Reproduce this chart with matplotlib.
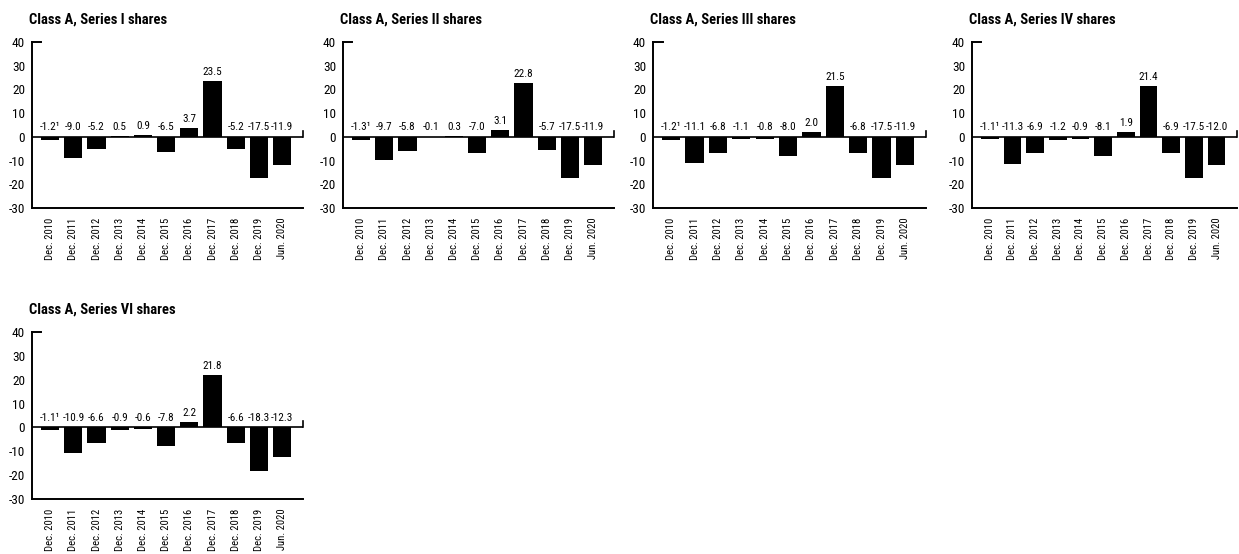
import matplotlib.pyplot as plt
import matplotlib.transforms as mtransforms

plt.rcParams['font.family'] = ['Roboto Condensed', 'Asap Condensed', 'DejaVu Sans']

periods = ["Dec. 2010", "Dec. 2011", "Dec. 2012", "Dec. 2013", "Dec. 2014", "Dec. 2015",
           "Dec. 2016", "Dec. 2017", "Dec. 2018", "Dec. 2019", "Jun. 2020"]

titles = ["Class A, Series I shares", "Class A, Series II shares",
          "Class A, Series III shares", "Class A, Series IV shares",
          "Class A, Series VI shares"]

series_1 = [-1.2, -9.0, -5.2, 0.5, 0.9, -6.5, 3.7, 23.5, -5.2, -17.5, -11.9]
series_2 = [-1.3, -9.7, -5.8, -0.1, 0.3, -7.0, 3.1, 22.8, -5.7, -17.5, -11.9]
series_3 = [-1.2, -11.1, -6.8, -1.1, -0.8, -8.0, 2.0, 21.5, -6.8, -17.5, -11.9]
series_4 = [-1.1, -11.3, -6.9, -1.2, -0.9, -8.1, 1.9, 21.4, -6.9, -17.5, -12.0]
series_6 = [-1.1, -10.9, -6.6, -0.9, -0.6, -7.8, 2.2, 21.8, -6.6, -18.3, -12.3]

all_series = [series_1, series_2, series_3, series_4, series_6]

W, H = 1239, 554
fig = plt.figure(figsize=(W / 100, H / 100), dpi=100)

# axes boxes in pixels: left, right, top, bottom
boxes = [(32, 303, 42, 208), (343, 614, 42, 208), (653, 926, 42, 208),
         (972, 1237, 42, 208), (32, 303, 332, 499)]

for vals, title, (l, r, t, b) in zip(all_series, titles, boxes):
    ax = fig.add_axes([l / W, 1 - b / H, (r - l) / W, (b - t) / H])
    x = range(len(vals))
    ax.bar(x, vals, width=0.78, color='black')
    ax.set_xlim(-0.78, 10.9)
    ax.set_ylim(-30, 40)
    ax.set_yticks([-30, -20, -10, 0, 10, 20, 30, 40])
    ax.set_yticklabels(['-30', '-20', '-10', '0', '10', '20', '30', '40'], fontsize=9.5)
    ax.set_xticks(list(x))
    ax.set_xticklabels(periods, rotation=90, fontsize=7.7)
    ax.tick_params(axis='x', length=0, pad=7)
    ax.tick_params(axis='y', length=0, pad=5)
    for s in ['top', 'right']:
        ax.spines[s].set_visible(False)
    for s in ['left', 'bottom']:
        ax.spines[s].set_linewidth(1.4)
    ax.axhline(0, color='black', lw=1.2)
    # tick at top of y axis and at the end of the zero line
    ax.plot([0, 0.035], [1, 1], transform=ax.transAxes, color='black', lw=1.4, clip_on=False)
    trans = mtransforms.blended_transform_factory(ax.transAxes, ax.transData)
    ax.plot([1, 1], [0, 2.5], transform=trans, color='black', lw=1.2, clip_on=False)

    for i, v in enumerate(vals):
        txt = f"{v:.1f}" + ("\u00b9" if i == 0 else "")
        ax.text(i, max(v, 0.3) + 2.5, txt, ha='center', va='baseline', fontsize=8)

    ax.text(-0.01, 1 + 22 / (b - t), title, transform=ax.transAxes,
            ha='left', va='center', fontsize=10.5, fontweight='bold')

fig.savefig('out.png', dpi=100)
